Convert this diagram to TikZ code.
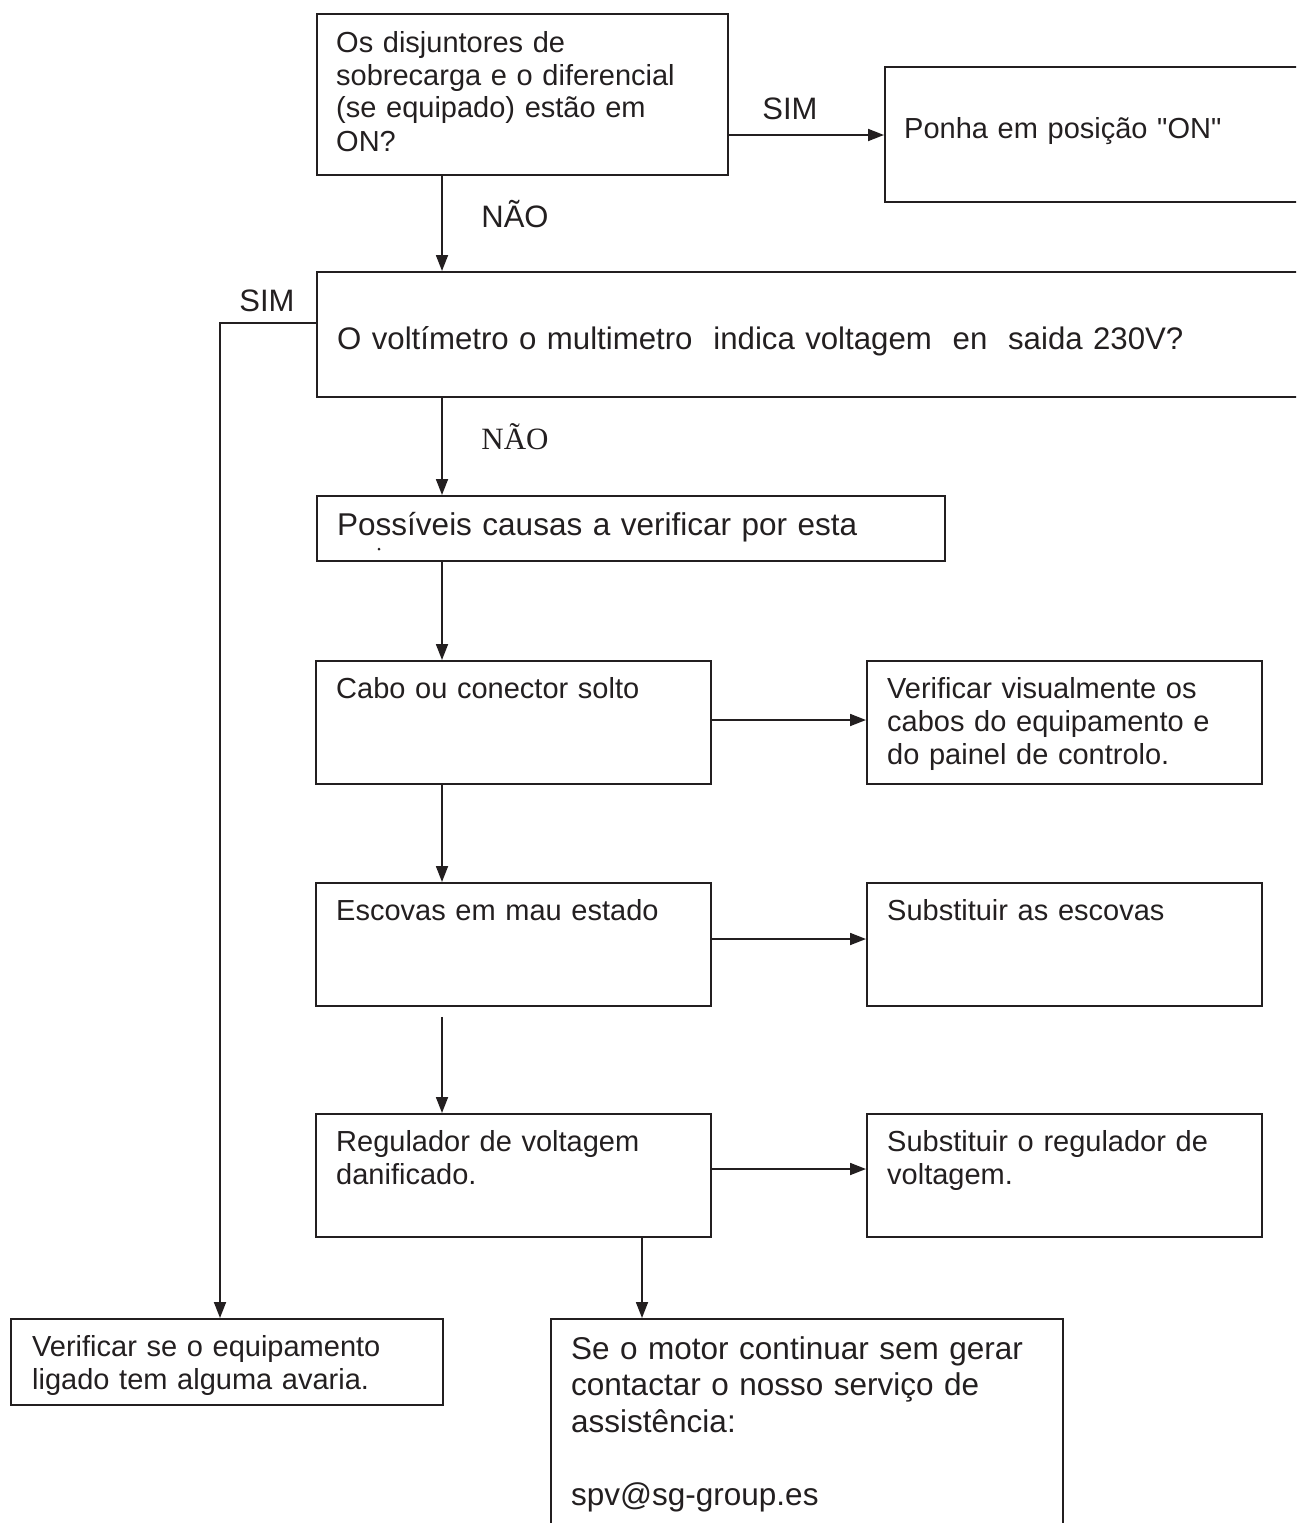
\documentclass[tikz,border=0pt]{standalone}
\usepackage{fontspec}
\setmainfont{Liberation Sans}[Ligatures=TeXOff]
\newfontfamily\serifnao{Liberation Serif}
\usetikzlibrary{arrows.meta}
\definecolor{ink}{HTML}{231F20}
\begin{document}
\begin{tikzpicture}[x=1pt,y=-1pt,
  box/.style={draw=ink, line width=1.8pt, anchor=north west, inner sep=0pt, rectangle},
  txt/.style={anchor=base west, inner sep=0pt, align=left, text width=560pt, text=ink, font=\fontsize{29}{33}\selectfont},
  bigtxt/.style={txt, font=\fontsize{31.5}{36.5}\selectfont},
  lbl/.style={anchor=base, inner sep=0pt, text=ink, font=\fontsize{31}{33}\selectfont},
  arr/.style={draw=ink, line width=1.8pt, -{Triangle[length=16pt,width=12pt]}},
  ln/.style={draw=ink, line width=1.8pt}]
\useasboundingbox (0,0) rectangle (1296,1523);
\clip (0,0) rectangle (1296,1523);

% boxes
\node[box, minimum width=411pt, minimum height=161pt] (q1) at (316,13) {};
\node[box, minimum width=500pt, minimum height=135pt] (on) at (884,66) {};
\node[box, minimum width=1100pt, minimum height=125pt] (q2) at (316,271) {};
\node[box, minimum width=628pt, minimum height=65pt] (pos) at (316,495) {};
\node[box, minimum width=395pt, minimum height=123pt] (cabo) at (315,660) {};
\node[box, minimum width=395pt, minimum height=123pt] (vis) at (866,660) {};
\node[box, minimum width=395pt, minimum height=123pt] (esc) at (315,882) {};
\node[box, minimum width=395pt, minimum height=123pt] (sesc) at (866,882) {};
\node[box, minimum width=395pt, minimum height=123pt] (reg) at (315,1113) {};
\node[box, minimum width=395pt, minimum height=123pt] (sreg) at (866,1113) {};
\node[box, minimum width=432pt, minimum height=86pt] (chk) at (10,1318) {};
\node[box, minimum width=512pt, minimum height=300pt] (mot) at (550,1318) {};

% texts
\node[txt] (tq1) at (336,52) {Os disjuntores de\\sobrecarga e o diferencial\\(se equipado) estão em\\ON?};
\node[txt] (ton) at (904,138) {Ponha em posição "ON"};
\node[bigtxt, text width=950pt, font=\fontsize{31.2}{36.5}\selectfont] (tq2) at (337,349) {O voltímetro o multimetro\ \ indica voltagem\ \ en\ \ saida 230V?};
\node[bigtxt, text width=600pt] (tpos) at (337,535) {Possíveis causas a verificar por esta};
\node[circle, fill=ink, inner sep=0pt, minimum size=3pt] (dot) at (379,549) {};
\node[txt] (tcabo) at (336,698) {Cabo ou conector solto};
\node[txt] (tvis) at (887,698) {Verificar visualmente os\\cabos do equipamento e\\do painel de controlo.};
\node[txt] (tesc) at (336,920) {Escovas em mau estado};
\node[txt] (tsesc) at (887,920) {Substituir as escovas};
\node[txt] (treg) at (336,1151) {Regulador de voltagem\\danificado.};
\node[txt] (tsreg) at (887,1151) {Substituir o regulador de\\voltagem.};
\node[txt] (tchk) at (32,1356) {Verificar se o equipamento\\ligado tem alguma avaria.};
\node[bigtxt] (tmot) at (571,1359) {Se o motor continuar sem gerar\\contactar o nosso serviço de\\assistência:\\[36.5pt]spv@sg-group.es};

% labels
\node[lbl] (sim1) at (790,119) {SIM};
\node[lbl] (nao1) at (515,227) {NÃO};
\node[lbl] (sim2) at (267,311) {SIM};
\node[lbl, font=\serifnao\fontsize{31}{33}\selectfont] (nao2) at (515,449) {NÃO};

% connectors
\coordinate (cA) at (442,0);
\coordinate (cB) at (642,0);
\coordinate (cL) at (220,0);
\coordinate (ySim) at (0,135);
\coordinate (yL) at (0,323);
\coordinate (r1) at (0,720);
\coordinate (r2) at (0,939);
\coordinate (r3) at (0,1169);

\draw[arr] (q1.south -| cA) -- (q2.north -| cA);
\draw[arr] (q1.east |- ySim) -- (on.west |- ySim);
\draw[arr] (q2.west |- yL) -| (chk.north -| cL);
\draw[arr] (q2.south -| cA) -- (pos.north -| cA);
\draw[arr] (pos.south -| cA) -- (cabo.north -| cA);
\draw[arr] (cabo.south -| cA) -- (esc.north -| cA);
\draw[arr] ([yshift=-10pt]esc.south -| cA) -- (reg.north -| cA);
\draw[arr] (reg.south -| cB) -- (mot.north -| cB);
\draw[arr] (cabo.east |- r1) -- (vis.west |- r1);
\draw[arr] (esc.east |- r2) -- (sesc.west |- r2);
\draw[arr] (reg.east |- r3) -- (sreg.west |- r3);
\end{tikzpicture}
\end{document}
